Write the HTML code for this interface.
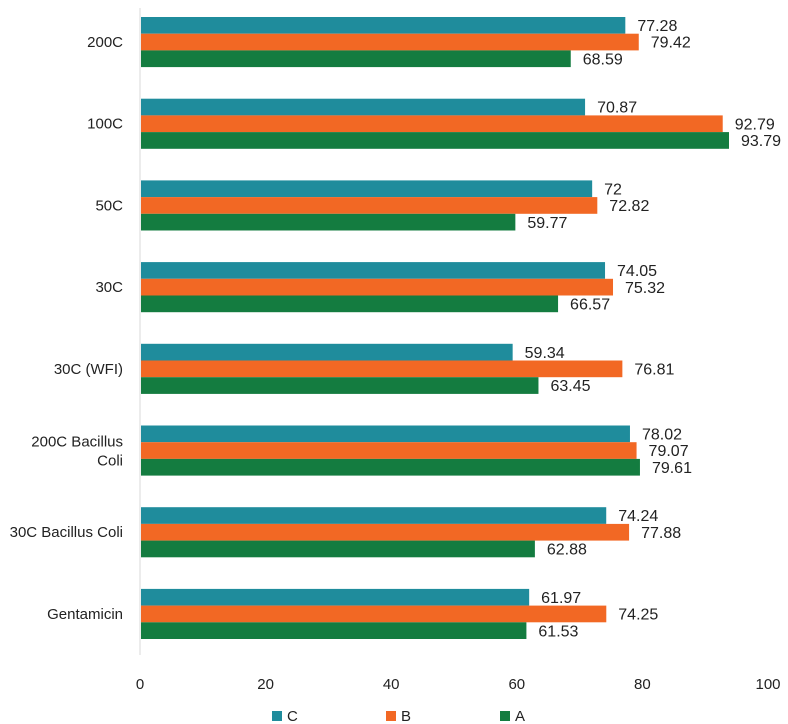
<!DOCTYPE html>
<html><head><meta charset="utf-8"><style>
body{margin:0;background:#fff;}
svg{display:block;font-family:"Liberation Sans",sans-serif;}
</style></head><body>
<svg id="chart" width="788" height="724" xmlns="http://www.w3.org/2000/svg"></svg>
<script>
const categories=["200C","100C","50C","30C","30C (WFI)","200C Bacillus Coli","30C Bacillus Coli","Gentamicin"];
const seriesC=[77.28,70.87,72,74.05,59.34,78.02,74.24,61.97];
const seriesB=[79.42,92.79,72.82,75.32,76.81,79.07,77.88,74.25];
const seriesA=[68.59,93.79,59.77,66.57,63.45,79.61,62.88,61.53];
const ticks=[0,20,40,60,80,100];
const seriesNames=["C","B","A"];
const colors=["#1f8c9c","#f26824","#147c40"];
const svg=document.getElementById('chart');
const NS="http://www.w3.org/2000/svg";
const x0=140,x1=768,plotTop=1,band=81.7,barH=16.7;
const xs=v=>x0+(v-0)/(100-0)*(x1-x0);
function el(t,a,txt){const e=document.createElementNS(NS,t);for(const k in a)e.setAttribute(k,a[k]);if(txt!=null)e.textContent=txt;svg.appendChild(e);return e;}
const axis=el('line',{x1:x0,x2:x0,y1:8,y2:655,stroke:'#d9d9d9','stroke-width':1});


ticks.forEach(t=>{const e=el('text',{x:xs(t),y:689,'text-anchor':'middle','font-size':15,fill:'#222'},t);

});
const all=[seriesC,seriesB,seriesA];
categories.forEach((c,i)=>{
 const yb=plotTop+i*band+16;
 const lines=c==="200C Bacillus Coli"?["200C Bacillus","Coli"]:[c];
 lines.forEach((ln,j)=>{const e=el('text',{x:123,y:yb+30-(lines.length-1)*9+j*19,'text-anchor':'end','font-size':15,fill:'#222'},ln);
 
 });
 all.forEach((s,k)=>{
  const y=yb+k*barH;
  const r=el('rect',{x:x0+1,y:y,width:xs(s[i])-x0-1,height:barH,fill:colors[k]});
  
  
  const t=el('text',{x:xs(s[i])+12,y:y+14,'font-size':16,fill:'#222'},s[i]);
  
  
 });
});
const lx=[272,386,500];
seriesNames.forEach((n,k)=>{
 const r=el('rect',{x:lx[k],y:711,width:10,height:10,fill:colors[k]});
 
 
 const t=el('text',{x:lx[k]+15,y:721,'font-size':15,fill:'#222'},n);
 
 
});
</script>
</body></html>
